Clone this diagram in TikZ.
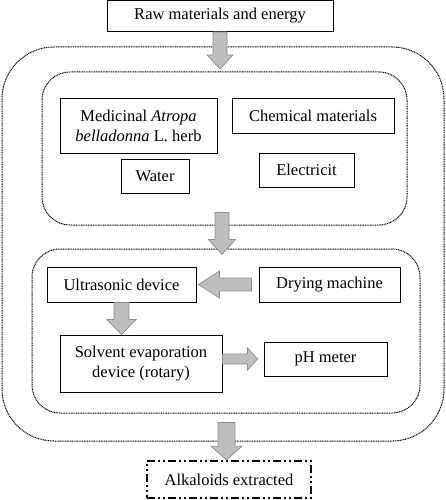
\documentclass[tikz,border=0pt]{standalone}
\usepackage{fontspec}
\setmainfont{Liberation Serif}
\usetikzlibrary{calc}
\definecolor{arrowfill}{HTML}{BEBEBE}
\definecolor{arrowline}{HTML}{8E8E8E}
\tikzset{
  plainbox/.style={draw=black, line width=0.9pt, rectangle, inner sep=2pt, align=center,
    font=\fontsize{16.5}{20}\selectfont},
  groupbox/.style={draw=black, line width=1pt, dash pattern=on 1pt off 0.7pt, rectangle},
  finalbox/.style={plainbox, line width=1.8pt, dash pattern=on 8pt off 3pt on 2pt off 3pt on 2pt off 3pt},
  blockarr/.style={draw=arrowline, fill=arrowfill, line width=0.7pt, line join=miter}
}
% #1 start, #2 end, #3 half shaft width, #4 half head width, #5 head length
\newcommand{\blockarrow}[5]{%
  \coordinate (ba-s) at #1;
  \coordinate (ba-e) at #2;
  \coordinate (ba-h) at ($(ba-e)!#5!(ba-s)$);
  \draw[blockarr] ($(ba-s)!#3!90:(ba-e)$) -- ($(ba-h)!#3!90:(ba-e)$) -- ($(ba-h)!#4!90:(ba-e)$)
    -- (ba-e) -- ($(ba-h)!#4!-90:(ba-e)$) -- ($(ba-h)!#3!-90:(ba-e)$) -- ($(ba-s)!#3!-90:(ba-e)$) -- cycle;
}
\begin{document}
\begin{tikzpicture}[x=1pt, y=-1pt]
\useasboundingbox (0,0) rectangle (446,500);
% group boxes
\node[groupbox, rounded corners=52pt, minimum width=442pt, minimum height=394pt] (outer) at (223,244) {};
\node[groupbox, rounded corners=28pt, minimum width=365pt, minimum height=153pt] (grp1) at (224.5,148.5) {};
\node[groupbox, rounded corners=28pt, minimum width=388pt, minimum height=164pt] (grp2) at (226,331) {};
% boxes
\node[plainbox, minimum width=226pt, minimum height=31pt] (raw) at (220,16) {Raw materials and energy};
\node[plainbox, minimum width=157pt, minimum height=55pt] (med) at (138.5,125.5) {Medicinal \textit{Atropa}\\ \textit{belladonna} L. herb};
\node[plainbox, minimum width=162pt, minimum height=35pt] (chem) at (313,115.5) {Chemical materials};
\node[plainbox, minimum width=68pt, minimum height=34pt] (water) at (155,176) {Water};
\node[plainbox, minimum width=95pt, minimum height=34pt] (elec) at (306.5,170) {Electricit};
\node[plainbox, minimum width=149pt, minimum height=35pt] (us) at (121.5,284.5) {Ultrasonic device};
\node[plainbox, minimum width=141pt, minimum height=35pt] (dry) at (329.5,284.5) {Drying machine};
\node[plainbox, minimum width=162pt, minimum height=57pt] (sol) at (141,363.5) {Solvent evaporation\\ device (rotary)};
\node[plainbox, minimum width=123pt, minimum height=34pt] (ph) at (325.5,359) {pH meter};
\node[finalbox, minimum width=164pt, minimum height=37pt] (alk) at (229,479.5) {Alkaloids extracted};
% block arrows
\blockarrow{(raw.south)}{([yshift=-37pt]raw.south)}{7pt}{13pt}{14pt}
\coordinate (a2s) at ([xshift=-2.5pt,yshift=13pt]grp1.south);
\coordinate (a2e) at ([yshift=-6pt]a2s |- grp2.north);
\blockarrow{(a2s)}{(a2e)}{7pt}{13.5pt}{15pt}
\blockarrow{([xshift=-7pt]dry.west)}{([xshift=2pt]us.east)}{6.5pt}{13.5pt}{21pt}
\blockarrow{(us.south)}{(us.south |- sol.north)}{7.5pt}{14.5pt}{15pt}
\blockarrow{(sol.east |- ph.west)}{([xshift=-6pt]ph.west)}{5pt}{11pt}{10pt}
\coordinate (a6s) at ([xshift=0.5pt,yshift=-9pt]grp2.south);
\coordinate (a6e) at (a6s |- alk.north);
\blockarrow{(a6s)}{(a6e)}{8.5pt}{15.5pt}{14pt}
\end{tikzpicture}
\end{document}
